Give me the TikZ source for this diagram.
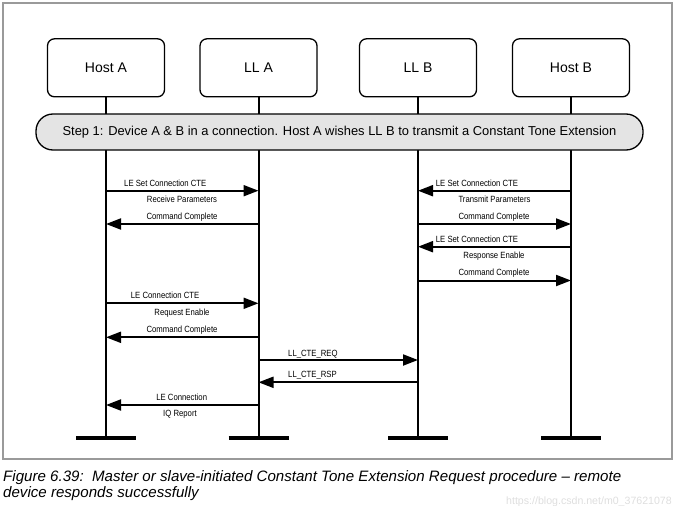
\documentclass[tikz,border=0pt]{standalone}
\usepackage{fontspec}
\setmainfont{Liberation Sans}
\newfontfamily\narrowfont[FakeStretch=0.86]{Liberation Sans}
\usetikzlibrary{arrows.meta}
\definecolor{bannergray}{HTML}{E4E4E4}
\definecolor{framegray}{HTML}{9A9A9A}
\definecolor{wmgray}{HTML}{DEDEDE}
\begin{document}
\begin{tikzpicture}[x=1pt,y=-1pt,
  actor/.style={draw, line width=1.3pt, rounded corners=7pt, minimum width=117pt, minimum height=58pt, font=\fontsize{14}{16}\selectfont, inner sep=0pt},
  banner/.style={draw, line width=1.3pt, fill=bannergray, rounded corners=17pt, minimum width=607pt, minimum height=36pt, font=\fontsize{12.9}{15}\selectfont, inner sep=0pt},
  life/.style={line width=2pt},
  endbar/.style={line width=4pt},
  msg/.style={line width=2pt, -{Triangle[length=15pt,width=11pt]}},
  lbl/.style={font=\narrowfont\fontsize{9}{10}\selectfont, inner sep=0pt},
  captext/.style={font=\itshape\fontsize{15.1}{17}\selectfont, inner sep=0pt, anchor=base west},
]
\useasboundingbox (0,0) rectangle (678,506);
\draw[framegray, line width=1.5pt] (3,3) rectangle (672,459);

% actors
\node[actor] (hA) at (106,67.8) {Host A};
\node[actor] (lA) at (258.5,67.8) {LL A};
\node[actor] (lB) at (418,67.8) {LL B};
\node[actor] (hB) at (571,67.8) {Host B};

% lifelines
\coordinate (yend) at (0,438);
\foreach \n in {hA,lA,lB,hB}{
  \coordinate (\n e) at (\n |- yend);
  \draw[life] (\n.south) -- (\n e);
  \draw[endbar] ([xshift=-30pt]\n e) -- ([xshift=30pt]\n e);
}

% banner
\node[banner] (step) at (339.5,132) {Step 1: Device A \& B in a connection. Host A wishes LL B to transmit a Constant Tone Extension};

% message levels
\coordinate (y1) at (0,190.7);
\coordinate (y2) at (0,224);
\coordinate (y3) at (0,246.7);
\coordinate (y4) at (0,280.5);
\coordinate (y5) at (0,303.3);
\coordinate (y6) at (0,337.3);
\coordinate (y7) at (0,360);
\coordinate (y8) at (0,382.3);
\coordinate (y9) at (0,405);

% left: Host A <-> LL A
\draw[msg] (hA |- y1) -- (lA |- y1);
\node[lbl, anchor=base west] (t1) at (124,186) {LE Set Connection CTE};
\node[lbl, anchor=base] (t2) at (182,202.3) {Receive Parameters};
\node[lbl, anchor=base] (t3) at (182,219) {Command Complete};
\draw[msg] (lA |- y2) -- (hA |- y2);

% right: Host B <-> LL B
\draw[msg] (hB |- y1) -- (lB |- y1);
\node[lbl, anchor=base west] (t4) at (435.7,186) {LE Set Connection CTE};
\node[lbl, anchor=base] (t5) at (494.5,202.3) {Transmit Parameters};
\node[lbl, anchor=base] (t6) at (494,219) {Command Complete};
\draw[msg] (lB |- y2) -- (hB |- y2);

\draw[msg] (hB |- y3) -- (lB |- y3);
\node[lbl, anchor=base west] (t7) at (435.7,242.3) {LE Set Connection CTE};
\node[lbl, anchor=base] (t8) at (494,258) {Response Enable};
\node[lbl, anchor=base] (t9) at (494,275.6) {Command Complete};
\draw[msg] (lB |- y4) -- (hB |- y4);

% left again
\draw[msg] (hA |- y5) -- (lA |- y5);
\node[lbl, anchor=base west] (t10) at (130.7,298.3) {LE Connection CTE};
\node[lbl, anchor=base] (t11) at (182,315) {Request Enable};
\node[lbl, anchor=base] (t12) at (182,332.6) {Command Complete};
\draw[msg] (lA |- y6) -- (hA |- y6);

% LL A <-> LL B
\draw[msg] (lA |- y7) -- (lB |- y7);
\node[lbl, anchor=base west] (t13) at (288,356) {LL\_CTE\_REQ};
\draw[msg] (lB |- y8) -- (lA |- y8);
\node[lbl, anchor=base west] (t14) at (288,377.3) {LL\_CTE\_RSP};

% report
\draw[msg] (lA |- y9) -- (hA |- y9);
\node[lbl, anchor=base] (t15) at (181.7,400.6) {LE Connection};
\node[lbl, anchor=base] (t16) at (180,416) {IQ Report};

% caption
\node[captext] (c1) at (3,481) {Figure 6.39:\ \ Master or slave-initiated Constant Tone Extension Request procedure – remote};
\node[captext] (c2) at (3,497) {device responds successfully};
\node[font=\fontsize{10.6}{12}\selectfont, text=wmgray, inner sep=0pt, anchor=base east] (wm) at (672,504) {https://blog.csdn.net/m0\_37621078};
\end{tikzpicture}
\end{document}
